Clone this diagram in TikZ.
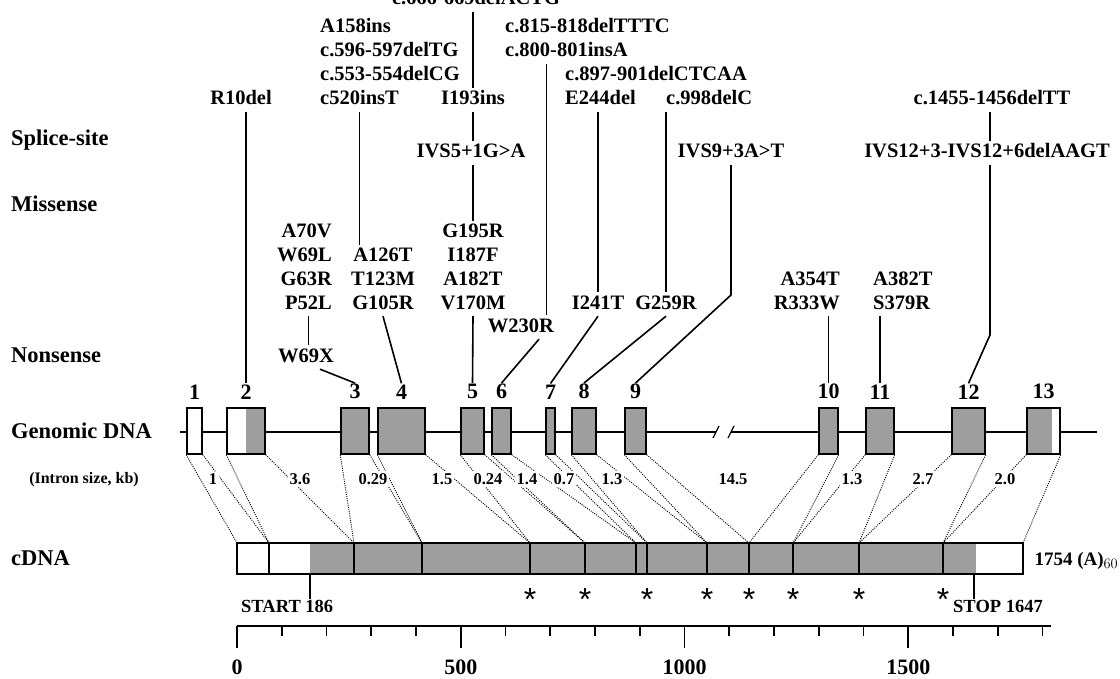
\documentclass[tikz,border=0pt]{standalone}
\usepackage{fontspec}
\setmainfont{Liberation Serif}
\newfontfamily\starfont{Liberation Sans}
\usetikzlibrary{positioning}

\begin{document}
\begin{tikzpicture}[x=1pt, y=-1pt,
  mut/.style={font=\fontsize{20.5}{24}\selectfont\bfseries, inner sep=3pt, text height=14pt, text depth=4pt},
  rowlab/.style={font=\fontsize{22.5}{26}\selectfont\bfseries, anchor=west, inner sep=0pt, text height=15pt, text depth=4pt},
  exnum/.style={font=\fontsize{22}{26}\selectfont\bfseries, inner sep=1pt},
  intron/.style={font=\fontsize{16.5}{19}\selectfont\bfseries, fill=white, inner sep=2pt},
  exon/.style={draw, line width=1.5pt, fill=black!38, minimum height=46pt, inner sep=0pt},
  link/.style={line width=1.6pt},
  dots/.style={line width=0.9pt, dash pattern=on 1pt off 1.2pt},
  ast/.style={font=\fontsize{32}{32}\starfont, inner sep=0pt, anchor=base},
]
  \useasboundingbox (0,0) rectangle (1120,679);
  \clip (0,0) rectangle (1120,679);

  % Row titles
  \node[rowlab] (tsplice) at (11,140) {Splice-site};
  \node[rowlab] (tmiss) at (11,206) {Missense};
  \node[rowlab] (tnons) at (11,357) {Nonsense};
  \node[rowlab] (tgen) at (11,433) {Genomic DNA};
  \node[font=\fontsize{16}{19}\selectfont\bfseries] (tintron) at (84,480) {(Intron size, kb)};
  \node[rowlab] (tcdna) at (11,560) {cDNA};

  % Genomic DNA
  \coordinate (g0) at (180,432);
  \coordinate (g1) at (716,432);
  \coordinate (g2) at (731,432);
  \coordinate (g3) at (1097,432);
  \draw[line width=1.3pt] (g0) -- (g1) (g2) -- (g3);
  \draw[line width=1.3pt] ([shift={(-3pt,-6pt)}]g1) -- ([shift={(3pt,6pt)}]g1);
  \draw[line width=1.3pt] ([shift={(-3pt,-6pt)}]g2) -- ([shift={(3pt,6pt)}]g2);

  % Exons
  \node[exon, fill=white, minimum width=15pt] (ex1) at (194.5,431) {};
  \node[exon, fill=white, minimum width=38pt,
    path picture={\fill[black!38] (path picture bounding box.north) rectangle (path picture bounding box.south east);}] (ex2) at (246,431) {};
  \foreach \n/\cx/\w in {3/355/28, 4/401.5/47, 5/472.5/23, 6/501.5/19, 7/550.5/9,
                         8/584/24, 9/635.5/21, 10/828.5/19, 11/880/28, 12/968.5/33}
    \node[exon, minimum width=\w pt] (ex\n) at (\cx,431) {};
  \node[exon, fill=white, minimum width=33pt,
    path picture={\fill[black!38] (path picture bounding box.south west) rectangle ([xshift=-8pt]path picture bounding box.north east);}] (ex13) at (1043.5,431) {};
  \foreach \n in {1,...,13}
    \node[exnum, above=7pt of ex\n] (n\n) {\n};

  % cDNA
  \foreach \i/\bx in {0/237, 1/269, 2/354, 3/422, 4/530, 5/585, 6/636, 7/647,
                      8/707, 9/749, 10/793, 11/859, 12/943, 13/1023}
    \coordinate (b\i) at (\bx,543);
  \fill[white] (b0) rectangle (1023,574);
  \fill[black!38] (310,543) rectangle (976,574);
  \foreach \i in {1,...,12}
    \draw[link] (b\i) -- ++(0,31);
  \draw[link] (b0) rectangle (1023,574);
  \node[font=\fontsize{19}{22}\selectfont\bfseries, anchor=west] (polya) at (1031,561) {1754 (A)$_{60}$};

  % Exon to cDNA
  \foreach \n/\l/\r in {1/0/1, 2/1/2, 3/2/3, 4/3/4, 5/4/5, 6/5/6, 7/6/7,
                        8/7/8, 9/8/9, 10/9/10, 11/10/11, 12/11/12, 13/12/13} {
    \draw[dots] (ex\n.south west) -- (b\l);
    \draw[dots] (ex\n.south east) -- (b\r);
  }
  \foreach \x/\t [count=\k] in {213/1, 300/3.6, 373/0.29, 442/1.5, 488/0.24, 527/1.4,
                                564/0.7, 612/1.3, 733/14.5, 852/1.3, 923/2.7, 1005/2.0}
    \node[intron] (in\k) at (\x,479) {\t};

  % Stars
  \foreach \i in {4,5,7,8,9,10,11,12}
    \node[ast] (st\i) at ([yshift=-67pt]b\i) {*};

  % Start and stop
  \coordinate (cstart) at (310,574);
  \coordinate (cstop) at (974,574);
  \node[font=\fontsize{18.5}{22}\selectfont\bfseries, anchor=west, inner sep=1pt] (start) at (240,606) {START 186};
  \node[font=\fontsize{18.5}{22}\selectfont\bfseries, anchor=west, inner sep=1pt] (stop) at (952,606) {STOP 1647};
  \draw[link] (cstart) -- (cstart |- start.north);
  \draw[link] (cstop) -- (cstop |- stop.north);

  % Scale
  \coordinate (s0) at (237,626);
  \draw[link] (s0) -- (1051,626);
  \foreach \k in {0,...,18}
    \draw[link] (237+44.75*\k,626) -- ++(0,10);
  \foreach \k/\t in {0/0, 5/500, 10/1000, 15/1500} {
    \draw[link] (237+44.75*\k,626) -- ++(0,22);
    \node[font=\fontsize{22}{26}\selectfont\bfseries] (sc\k) at (237+44.75*\k,667) {\t};
  }

  % Mutations, upper rows
  \node[mut] (cut) at (476,0) {c.666-669delACTG};
  \node[mut, anchor=west] (a158) at (317,28) {A158ins};
  \node[mut, anchor=west] (c596) at (317,52) {c.596-597delTG};
  \node[mut, anchor=west] (c553) at (317,76) {c.553-554delCG};
  \node[mut, anchor=west] (c520) at (317,100) {c520insT};
  \node[mut] (r10) at (241,100) {R10del};
  \node[mut] (i193) at (473,100) {I193ins};
  \node[mut, anchor=west] (c815) at (502,28) {c.815-818delTTTC};
  \node[mut, anchor=west] (c800) at (502,52) {c.800-801insA};
  \node[mut, anchor=west] (c897) at (562,76) {c.897-901delCTCAA};
  \node[mut, anchor=west] (e244) at (562,100) {E244del};
  \node[mut, anchor=west] (c998) at (663,100) {c.998delC};
  \node[mut] (c1455) at (992,100) {c.1455-1456delTT};
  \node[mut] (ivs5) at (471,153) {IVS5+1G>A};
  \node[mut] (ivs9) at (731,153) {IVS9+3A>T};
  \node[mut] (ivs12) at (987,153) {IVS12+3-IVS12+6delAAGT};

  % Mutations, lower rows
  \node[mut, anchor=east] (a70v) at (335,233) {A70V};
  \node[mut, anchor=east] (w69l) at (335,257) {W69L};
  \node[mut, anchor=east] (g63r) at (335,281) {G63R};
  \node[mut, anchor=east] (p52l) at (335,304) {P52L};
  \node[mut] (w69x) at (306,357) {W69X};
  \node[mut] (a126t) at (383,257) {A126T};
  \node[mut] (t123m) at (383,281) {T123M};
  \node[mut] (g105r) at (383,304) {G105R};
  \node[mut] (g195r) at (473,233) {G195R};
  \node[mut] (i187f) at (473,257) {I187F};
  \node[mut] (a182t) at (473,281) {A182T};
  \node[mut] (v170m) at (473,304) {V170M};
  \node[mut] (w230r) at (521,327) {W230R};
  \node[mut] (i241t) at (598,304) {I241T};
  \node[mut] (g259r) at (666,304) {G259R};
  \node[mut, anchor=east] (a354t) at (843,281) {A354T};
  \node[mut, anchor=east] (r333w) at (843,304) {R333W};
  \node[mut, anchor=west] (a382t) at (870,281) {A382T};
  \node[mut, anchor=west] (s379r) at (870,304) {S379R};

  % Connectors
  \coordinate (k9) at (731,295);
  \coordinate (k12) at (990,335);
  \draw[link] (n2.north |- r10.south) -- (n2.north);
  \draw[link] (c520.south) -- (c520.south |- a126t.north);
  \draw[link] (i193.north |- cut.south) -- (i193.north);
  \draw[link] (i193.south) -- (i193.south |- ivs5.north);
  \draw[link] (i193.south |- ivs5.south) -- (g195r.north);
  \draw[link] (v170m.south) -- (n5.north);
  \draw[link] ([xshift=-20pt]c800.south) -- ([xshift=-20pt]c800.south |- w230r.north);
  \draw[link] ([xshift=18pt]w230r.south) -- (n6.north);
  \draw[link] (i241t.north |- e244.south) -- (i241t.north);
  \draw[link] (i241t.south) -- (n7.north);
  \draw[link] (g259r.north |- c998.south) -- (g259r.north);
  \draw[link] (g259r.south) -- (n8.north);
  \draw[link] (ivs9.south) -- (k9) -- (n9.north);
  \draw[link] (n10.north |- r333w.south) -- (n10.north);
  \draw[link] (n11.north |- s379r.south) -- (n11.north);
  \draw[link] (k12 |- c1455.south) -- (k12 |- ivs12.north);
  \draw[link] (k12 |- ivs12.south) -- (k12) -- (n12.north);
  \draw[link] (p52l.south) -- (p52l.south |- w69x.north);
  \draw[link] ([xshift=14pt]w69x.south) -- (n3.north);
  \draw[link] (g105r.south) -- (n4.north);
\end{tikzpicture}
\end{document}
